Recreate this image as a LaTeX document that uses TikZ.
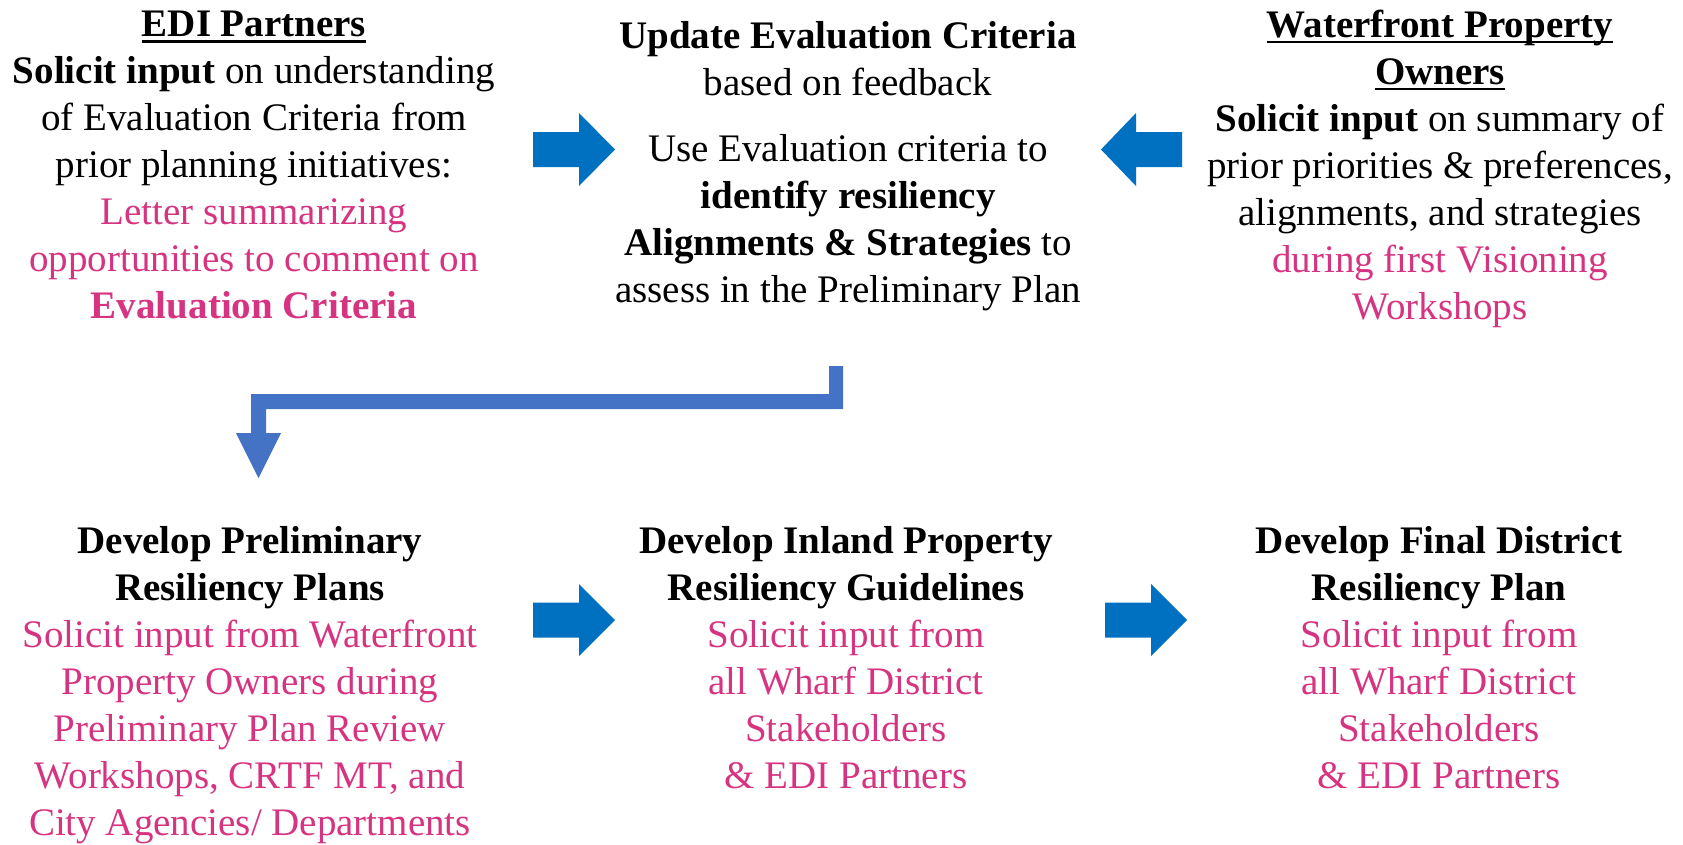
\documentclass[tikz,border=0pt]{standalone}
\usepackage{fontspec}
\setmainfont{Liberation Serif}
\definecolor{pk}{RGB}{214,52,128}
\definecolor{ablue}{RGB}{0,112,192}
\definecolor{eblue}{RGB}{68,114,196}
\newlength\ulw
\newcommand\myul[1]{\settowidth\ulw{#1}\rlap{\rule[-6pt]{\ulw}{2.4pt}}#1}
\newcommand\pk[1]{\textcolor{pk}{#1}}
\tikzset{
  blk/.style={anchor=north, inner sep=0pt, align=center, font=\fontsize{39}{47}\selectfont},
  barrow/.style={fill=ablue},
  earrow/.style={fill=eblue}
}
\begin{document}
\begin{tikzpicture}[x=1pt,y=-1pt]
\useasboundingbox (0,0) rectangle (1683,844);
\node[blk] (edi) at (254,3.5) {\strut\textbf{\myul{EDI Partners}}\\
\textbf{Solicit input} on understanding\\
of Evaluation Criteria from\\
prior planning initiatives:\\
\pk{Letter summarizing}\\
\pk{opportunities to comment on}\\
\pk{\textbf{Evaluation Criteria}}};
\node[blk] (upd) at (848,15.5) {\strut\textbf{Update Evaluation Criteria}\\
based on feedback\\[19pt]
Use Evaluation criteria to\\
\textbf{identify resiliency}\\
\textbf{Alignments \& Strategies} to\\
assess in the Preliminary Plan};
\node[blk] (wpo) at (1440,4) {\strut\textbf{\myul{Waterfront Property}}\\
\textbf{\myul{Owners}}\\
\textbf{Solicit input} on summary of\\
prior priorities \& preferences,\\
alignments, and strategies\\
\pk{during first Visioning}\\
\pk{Workshops}};
\node[blk] (dpp) at (250,520.5) {\strut\textbf{Develop Preliminary}\\
\textbf{Resiliency Plans}\\
\pk{Solicit input from Waterfront}\\
\pk{Property Owners during}\\
\pk{Preliminary Plan Review}\\
\pk{Workshops, CRTF MT, and}\\
\pk{City Agencies/ Departments}};
\node[blk] (dip) at (846,520.5) {\strut\textbf{Develop Inland Property}\\
\textbf{Resiliency Guidelines}\\
\pk{Solicit input from}\\
\pk{all Wharf District}\\
\pk{Stakeholders}\\
\pk{\& EDI Partners}};
\node[blk] (dfd) at (1439,520.5) {\strut\textbf{Develop Final District}\\
\textbf{Resiliency Plan}\\
\pk{Solicit input from}\\
\pk{all Wharf District}\\
\pk{Stakeholders}\\
\pk{\& EDI Partners}};
% block arrows
\fill[barrow] (533,132) -- (579,132) -- (579,113) -- (615,149.5) -- (579,186) -- (579,167) -- (533,167) -- cycle;
\fill[barrow] (1182,132) -- (1136,132) -- (1136,113) -- (1101,149.5) -- (1136,186) -- (1136,167) -- (1182,167) -- cycle;
\fill[barrow] (533,602.5) -- (579,602.5) -- (579,584) -- (615,620) -- (579,656) -- (579,637.5) -- (533,637.5) -- cycle;
\fill[barrow] (1105,602.5) -- (1151,602.5) -- (1151,584) -- (1187,620) -- (1151,656) -- (1151,637.5) -- (1105,637.5) -- cycle;
% elbow arrow
\fill[earrow] (829,366) -- (843,366) -- (843,409) -- (266,409) -- (266,433) -- (281,433) -- (258.5,478) -- (236,433) -- (251,433) -- (251,394) -- (829,394) -- cycle;
\end{tikzpicture}
\end{document}
